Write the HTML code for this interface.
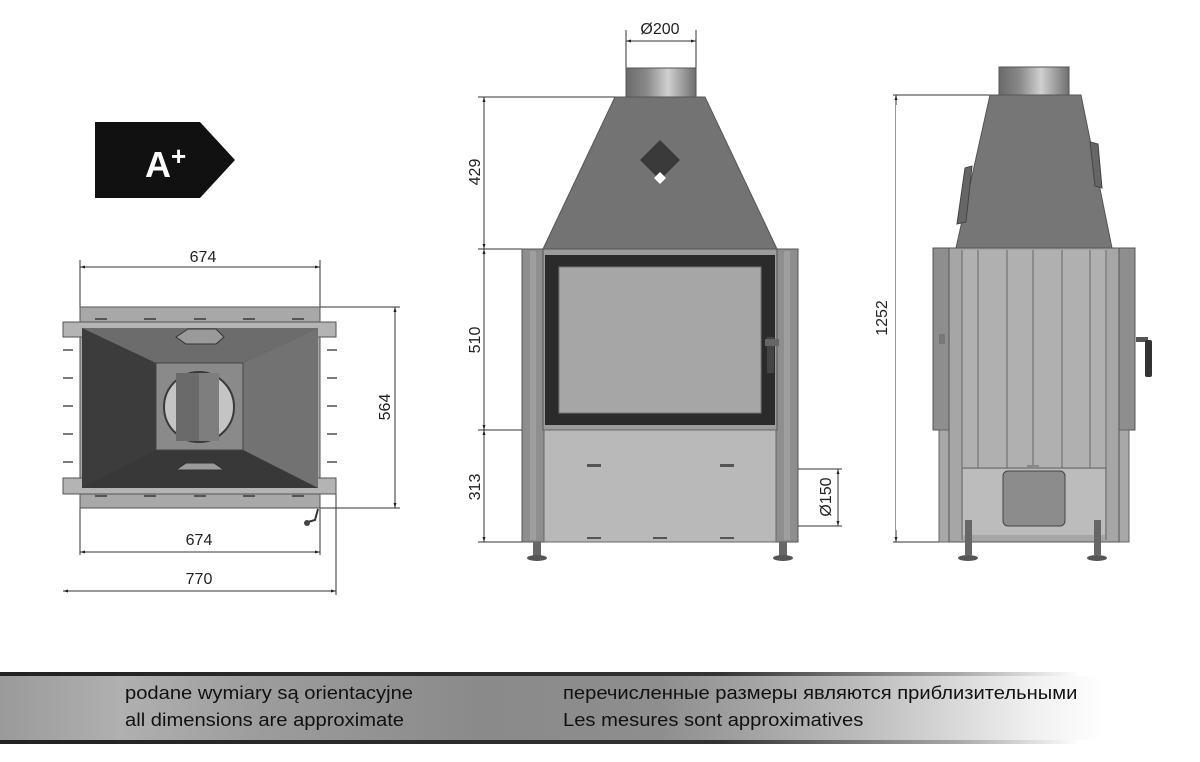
<!DOCTYPE html>
<html><head><meta charset="utf-8"><style>
html,body{margin:0;padding:0;background:#fff;}
body{width:1200px;height:762px;overflow:hidden;position:relative;font-family:"Liberation Sans",sans-serif;}
svg{position:absolute;left:0;top:0;}
.band{position:absolute;left:0;top:672px;width:1200px;height:72px;
background:linear-gradient(90deg,#9a9a9a 0%,#b0b0b0 10%,#9c9c9c 22%,#8a8a8a 40%,#8e8e8e 55%,#bdbdbd 72%,#f0f0f0 86%,#fff 92%);}
.band:before{content:"";position:absolute;left:0;top:0;width:100%;height:4px;background:linear-gradient(90deg,#222 0%,#333 60%,#aaa 80%,#fff 90%);}
.band:after{content:"";position:absolute;left:0;bottom:0;width:100%;height:4px;background:linear-gradient(90deg,#222 0%,#333 60%,#aaa 80%,#fff 90%);}
.t{position:absolute;font-family:"Liberation Sans",sans-serif;font-size:18px;color:#111;white-space:nowrap;transform:scaleX(1.12);transform-origin:0 0;}
</style></head><body>
<div class="band"></div>
<div class="t" style="left:125px;top:683px;">podane wymiary są orientacyjne</div>
<div class="t" style="left:125px;top:710px;">all dimensions are approximate</div>
<div class="t" style="left:563px;top:683px;">перечисленные размеры являются приблизительными</div>
<div class="t" style="left:563px;top:710px;">Les mesures sont approximatives</div>

<svg width="1200" height="762" viewBox="0 0 1200 762" font-family="Liberation Sans, sans-serif">
<defs>
<linearGradient id="pipe" x1="0" x2="1"><stop offset="0" stop-color="#6a6a6a"/><stop offset="0.3" stop-color="#8a8a8a"/><stop offset="0.6" stop-color="#d0d0d0"/><stop offset="1" stop-color="#6e6e6e"/></linearGradient>
<marker id="ar" viewBox="0 0 10 10" refX="10" refY="5" markerWidth="7" markerHeight="5" orient="auto-start-reverse"><path d="M0,2 L10,5 L0,8z" fill="#222"/></marker>
</defs>

<polygon points="95,122 200,122 235,160 200,198 95,198" fill="#111"/>
<text x="145" y="177" font-size="36" font-weight="bold" fill="#fff">A</text>
<text x="171" y="165" font-size="26" font-weight="bold" fill="#fff">+</text>

<g stroke="#333" stroke-width="1" fill="none">
<line x1="80" y1="260" x2="80" y2="555"/><line x1="320" y1="260" x2="320" y2="555"/>
<line x1="80" y1="267" x2="320" y2="267" marker-start="url(#ar)" marker-end="url(#ar)"/>
<line x1="320" y1="307" x2="400" y2="307"/><line x1="320" y1="508" x2="400" y2="508"/>
<line x1="395" y1="307" x2="395" y2="508" marker-start="url(#ar)" marker-end="url(#ar)"/>
<line x1="80" y1="552" x2="320" y2="552" marker-start="url(#ar)" marker-end="url(#ar)"/>
<line x1="336" y1="490" x2="336" y2="595"/>
<line x1="63" y1="591" x2="336" y2="591" marker-start="url(#ar)" marker-end="url(#ar)"/>
</g>
<text x="203" y="262" font-size="16" text-anchor="middle" fill="#222">674</text>
<text x="199" y="545" font-size="16" text-anchor="middle" fill="#222">674</text>
<text x="199" y="584" font-size="16" text-anchor="middle" fill="#222">770</text>
<text x="0" y="0" font-size="16" text-anchor="middle" fill="#222" transform="translate(390,407) rotate(-90)">564</text>
<g stroke="#222" stroke-width="1.2">
<line x1="63" y1="350" x2="73" y2="350"/><line x1="63" y1="378" x2="73" y2="378"/><line x1="63" y1="406" x2="73" y2="406"/><line x1="63" y1="434" x2="73" y2="434"/><line x1="63" y1="462" x2="73" y2="462"/>
<line x1="327" y1="350" x2="337" y2="350"/><line x1="327" y1="378" x2="337" y2="378"/><line x1="327" y1="406" x2="337" y2="406"/><line x1="327" y1="434" x2="337" y2="434"/><line x1="327" y1="462" x2="337" y2="462"/>
</g>
<rect x="80" y="307" width="240" height="201" fill="#a8a8a8" stroke="#555"/>
<rect x="63" y="322" width="273" height="15" fill="#b4b4b4" stroke="#555"/>
<rect x="63" y="478" width="273" height="16" fill="#b4b4b4" stroke="#555"/>
<rect x="82" y="328" width="236" height="160" fill="#3c3c3c"/>
<polygon points="82,328 318,328 243,363 156,363" fill="#6c6c6c"/>
<polygon points="318,328 318,488 243,450 243,363" fill="#727272"/>
<polygon points="82,488 318,488 243,450 156,450" fill="#383838"/>
<rect x="156" y="363" width="87" height="87" fill="#8a8a8a" stroke="#444"/>
<circle cx="199" cy="407" r="35" fill="#c4c4c4" stroke="#3a3a3a" stroke-width="2"/>
<rect x="176" y="373" width="23" height="68" fill="#6a6a6a"/><rect x="199" y="373" width="20" height="68" fill="#7e7e7e"/>
<polygon points="176,337 188,329 216,329 224,337 216,344 186,344" fill="#9a9a9a" stroke="#333"/>
<polygon points="176,470 186,463 214,463 224,470" fill="#9a9a9a" stroke="#333"/>
<g fill="#555"><rect x="95" y="318" width="12" height="2"/><rect x="144" y="318" width="12" height="2"/><rect x="194" y="318" width="12" height="2"/><rect x="243" y="318" width="12" height="2"/><rect x="292" y="318" width="12" height="2"/>
<rect x="95" y="495" width="12" height="2"/><rect x="144" y="495" width="12" height="2"/><rect x="194" y="495" width="12" height="2"/><rect x="243" y="495" width="12" height="2"/><rect x="292" y="495" width="12" height="2"/></g>
<path d="M318,509 L315,520 L308,522" stroke="#333" stroke-width="2" fill="none"/><circle cx="307" cy="523" r="3" fill="#444"/>

<g stroke="#333" stroke-width="1" fill="none">
<line x1="626" y1="30" x2="626" y2="68"/><line x1="696" y1="30" x2="696" y2="68"/>
<line x1="626" y1="41" x2="696" y2="41" marker-start="url(#ar)" marker-end="url(#ar)"/>
<line x1="478" y1="97" x2="615" y2="97"/>
<line x1="478" y1="249" x2="543" y2="249"/>
<line x1="478" y1="430" x2="543" y2="430"/>
<line x1="478" y1="542" x2="523" y2="542"/>
<line x1="484" y1="97" x2="484" y2="249" marker-start="url(#ar)" marker-end="url(#ar)"/>
<line x1="484" y1="249" x2="484" y2="430" marker-start="url(#ar)" marker-end="url(#ar)"/>
<line x1="484" y1="430" x2="484" y2="542" marker-start="url(#ar)" marker-end="url(#ar)"/>
<line x1="757" y1="469" x2="842" y2="469"/><line x1="757" y1="526" x2="842" y2="526"/>
<line x1="838" y1="469" x2="838" y2="526" marker-start="url(#ar)" marker-end="url(#ar)"/>
</g>
<text x="660" y="34" font-size="16" text-anchor="middle" fill="#222">Ø200</text>
<text font-size="16" text-anchor="middle" fill="#222" transform="translate(480,172) rotate(-90)">429</text>
<text font-size="16" text-anchor="middle" fill="#222" transform="translate(480,340) rotate(-90)">510</text>
<text font-size="16" text-anchor="middle" fill="#222" transform="translate(480,487) rotate(-90)">313</text>
<text font-size="16" text-anchor="middle" fill="#222" transform="translate(831,497) rotate(-90)">Ø150</text>
<rect x="626" y="68" width="70" height="29" fill="url(#pipe)" stroke="#555"/>
<polygon points="615,97 705,97 777,249 543,249" fill="#737373" stroke="#555"/>
<polygon points="660,140 680,160 660,180 640,160" fill="#3a3a3a"/>
<polygon points="660,172 666,178 660,184 654,178" fill="#fff"/>
<rect x="522" y="249" width="22" height="293" fill="#8e8e8e" stroke="#555"/>
<rect x="776" y="249" width="22" height="293" fill="#8e8e8e" stroke="#555"/>
<rect x="530" y="251" width="6" height="289" fill="#9e9e9e"/><rect x="784" y="251" width="6" height="289" fill="#9e9e9e"/>
<rect x="543" y="249" width="234" height="181" fill="#9c9c9c" stroke="#555"/>
<rect x="545" y="255" width="230" height="170" fill="#2b2b2b"/>
<rect x="559" y="267" width="202" height="146" fill="#a6a6a6" stroke="#777"/>
<rect x="544" y="430" width="232" height="112" fill="#b9b9b9" stroke="#666"/>
<g fill="#555"><rect x="587" y="464" width="14" height="3"/><rect x="720" y="464" width="14" height="3"/><rect x="587" y="537" width="14" height="2"/><rect x="653" y="537" width="14" height="2"/><rect x="720" y="537" width="14" height="2"/></g>
<rect x="767" y="337" width="7" height="36" fill="#444"/><rect x="765" y="339" width="14" height="7" fill="#666"/>
<rect x="533" y="542" width="8" height="14" fill="#666"/><ellipse cx="537" cy="558" rx="10" ry="3" fill="#555"/>
<rect x="779" y="542" width="8" height="14" fill="#666"/><ellipse cx="783" cy="558" rx="10" ry="3" fill="#555"/>

<g stroke="#333" stroke-width="1" fill="none">
<line x1="893" y1="95" x2="990" y2="95"/><line x1="893" y1="542" x2="940" y2="542"/>
<line x1="896" y1="95" x2="896" y2="542" marker-start="url(#ar)" marker-end="url(#ar)"/>
</g>
<rect x="896" y="105" width="1" height="425" fill="#fff"/>
<text font-size="16" text-anchor="middle" fill="#222" transform="translate(887,318) rotate(-90)">1252</text>
<rect x="999" y="67" width="70" height="29" fill="url(#pipe)" stroke="#555"/>
<polygon points="990,95 1081,95 1112,248 956,248" fill="#767676" stroke="#555"/>
<polygon points="965,168 972,166 966,222 957,224" fill="#666" stroke="#444"/>
<polygon points="1090,142 1098,144 1102,188 1095,186" fill="#666" stroke="#444"/>
<rect x="933" y="248" width="16" height="182" fill="#8e8e8e" stroke="#555"/>
<rect x="1119" y="248" width="16" height="182" fill="#8e8e8e" stroke="#555"/>
<rect x="939" y="430" width="10" height="112" fill="#a8a8a8" stroke="#666"/>
<rect x="1119" y="430" width="10" height="112" fill="#a8a8a8" stroke="#666"/>
<rect x="949" y="248" width="170" height="294" fill="#a6a6a6" stroke="#555"/>
<rect x="962" y="250" width="145" height="218" fill="#b0b0b0"/>
<g stroke="#666" stroke-width="1"><line x1="962" y1="250" x2="962" y2="540"/><line x1="978" y1="250" x2="978" y2="468"/><line x1="1007" y1="250" x2="1007" y2="468"/><line x1="1033" y1="250" x2="1033" y2="468"/><line x1="1062" y1="250" x2="1062" y2="468"/><line x1="1090" y1="250" x2="1090" y2="468"/><line x1="1106" y1="250" x2="1106" y2="540"/><line x1="962" y1="468" x2="1106" y2="468"/></g>
<rect x="963" y="469" width="142" height="66" fill="#bcbcbc"/>
<rect x="1003" y="471" width="62" height="55" rx="5" fill="#8c8c8c" stroke="#444"/>
<rect x="1027" y="465" width="12" height="4" fill="#888"/>
<rect x="1136" y="337" width="12" height="5" fill="#555"/><rect x="1145" y="340" width="7" height="37" rx="2" fill="#333"/>
<rect x="939" y="334" width="6" height="10" fill="#777"/>
<rect x="965" y="520" width="7" height="35" fill="#666"/><ellipse cx="968" cy="558" rx="10" ry="3" fill="#555"/>
<rect x="1094" y="520" width="7" height="35" fill="#666"/><ellipse cx="1097" cy="558" rx="10" ry="3" fill="#555"/>
</svg>
</body></html>
